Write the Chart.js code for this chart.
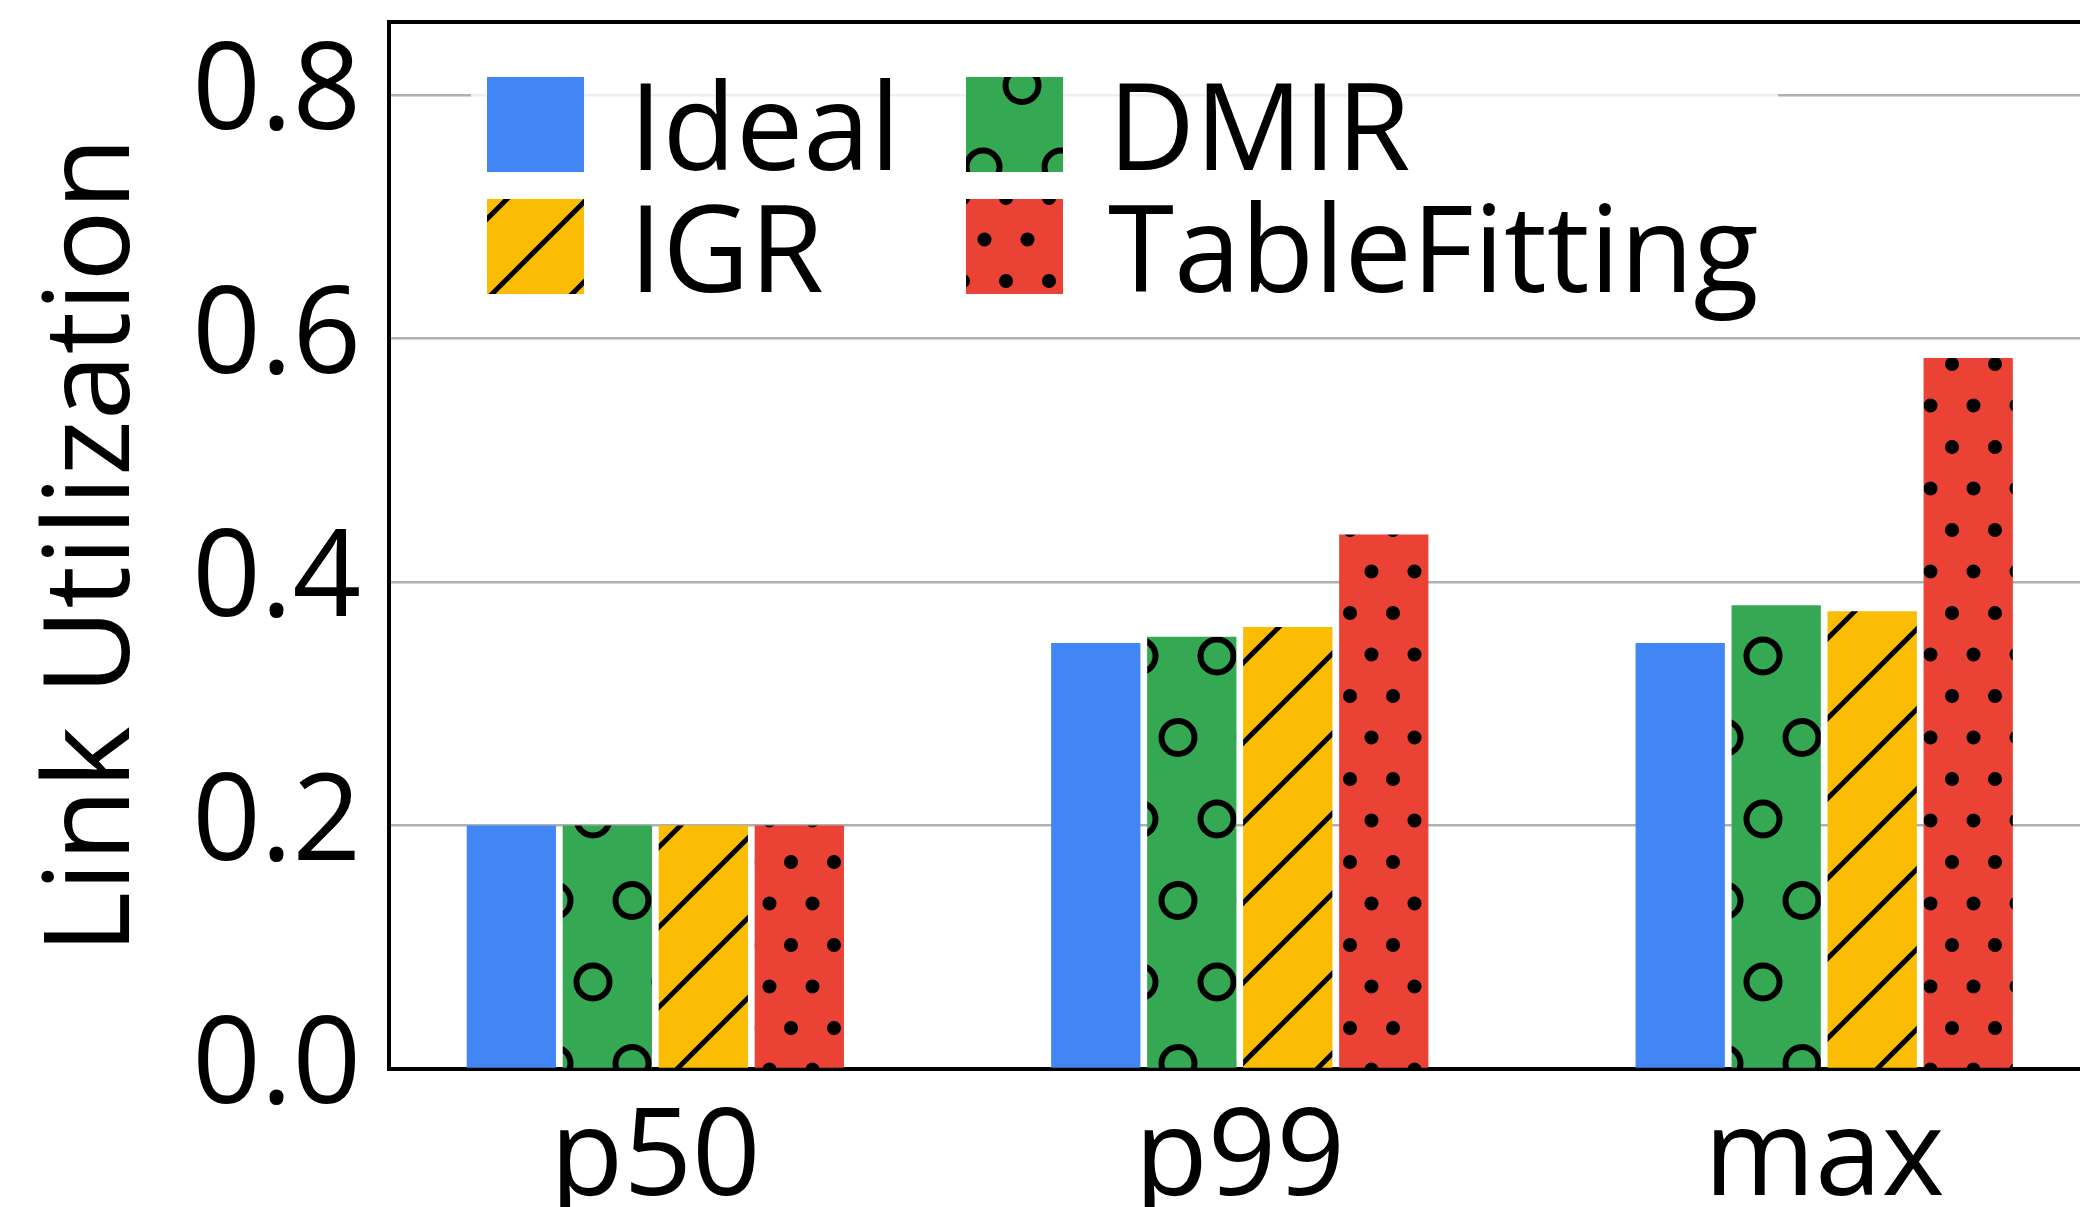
<!DOCTYPE html>
<html>
<head>
<meta charset="utf-8">
<script src="https://cdn.jsdelivr.net/npm/chart.js@4.4.1/dist/chart.umd.min.js"></script>
<style>
  html, body { margin: 0; padding: 0; background: #fff; overflow: hidden; width: 2080px; height: 1207px; }
  #wrap { width: 2200px; height: 1207px; }
</style>
</head>
<body>
<div id="wrap"><canvas id="c" width="2200" height="1207"></canvas></div>
<script>
// ---- data ----
const categories = ['p50', 'p99', 'max'];
const seriesNames = ['Ideal', 'DMIR', 'IGR', 'TableFitting'];
const idealVals = [0.200, 0.350, 0.350];
const dmirVals = [0.200, 0.355, 0.381];
const igrVals = [0.200, 0.363, 0.376];
const tableFittingVals = [0.200, 0.439, 0.584];
const yTickValues = [0.0, 0.2, 0.4, 0.6, 0.8];

// ---- styling ----
const FONT = 'Open Sans';
const TEXT_SIZE = 120;
const fillColors = ['#4285F4', '#34A853', '#FBBC04', '#EA4335'];

const canvas = document.getElementById('c');
const mainCtx = canvas.getContext('2d');

// Build a repeating hatch fill on top of a base colour.
function hatchFill(w, h, base, paint) {
  const t = document.createElement('canvas');
  t.width = w; t.height = h;
  const g = t.getContext('2d');
  g.fillStyle = base;
  g.fillRect(0, 0, w, h);
  g.strokeStyle = '#000';
  g.fillStyle = '#000';
  paint(g, w, h);
  return mainCtx.createPattern(t, 'repeat');
}

// open rings in staggered rows
const ringFill = hatchFill(78, 163, fillColors[1], (g, w, h) => {
  g.lineWidth = 6;
  const pts = [[47, 4], [8, 85.5]];
  for (const [px, py] of pts) {
    for (const dx of [-w, 0, w]) for (const dy of [-h, 0, h]) {
      g.beginPath();
      g.arc(px + dx, py + dy, 16.5, 0, Math.PI * 2);
      g.stroke();
    }
  }
});

// forward diagonal lines
const slashFill = hatchFill(80, 80, fillColors[2], (g, w, h) => {
  g.lineWidth = 5;
  g.lineCap = 'butt';
  for (let k = -2; k <= 2; k++) {
    const c = 66 + k * w;
    g.beginPath();
    g.moveTo(c + 20, -20);
    g.lineTo(-20, c + 20);
    g.stroke();
  }
});

// small solid dots in staggered rows
const dotFill = hatchFill(43, 83, fillColors[3], (g, w, h) => {
  const pts = [[17, 32], [38.5, 73.5]];
  for (const [px, py] of pts) {
    for (const dx of [-w, 0, w]) for (const dy of [-h, 0, h]) {
      g.beginPath();
      g.arc(px + dx, py + dy, 7, 0, Math.PI * 2);
      g.fill();
    }
  }
});

const seriesValues = [idealVals, dmirVals, igrVals, tableFittingVals];
const seriesFills = [fillColors[0], ringFill, slashFill, dotFill];

// legend drawn inside the plot, two columns
const legendBox = { x: [487, 966], y: [77, 199], w: 97, h: 95, gap: 45,
                    frame: [471, 50, 1307, 266] };
const insideLegend = {
  id: 'insideLegend',
  afterDraw(chart) {
    const ctx = chart.ctx;
    ctx.save();
    const [fx, fy, fw, fh] = legendBox.frame;
    ctx.fillStyle = 'rgba(255,255,255,0.8)';
    ctx.fillRect(fx, fy, fw, fh);
    ctx.font = `${TEXT_SIZE}px "${FONT}"`;
    ctx.textBaseline = 'alphabetic';
    ctx.textAlign = 'left';
    chart.data.datasets.forEach((ds, i) => {
      const x = legendBox.x[i % 2];
      const y = legendBox.y[Math.floor(i / 2)];
      ctx.fillStyle = ds.backgroundColor;
      ctx.fillRect(x, y, legendBox.w, legendBox.h);
      ctx.fillStyle = '#000';
      ctx.fillText(ds.label, x + legendBox.w + legendBox.gap, y + legendBox.h - 2);
    });
    ctx.restore();
  }
};

const xMin = -0.4557, xMax = 2.643;

function build() {
  new Chart(canvas, {
    type: 'bar',
    data: {
      datasets: seriesNames.map((name, s) => ({
        label: name,
        data: seriesValues[s].map((v, i) => ({ x: i, y: v })),
        backgroundColor: seriesFills[s],
        borderWidth: 0,
        categoryPercentage: 0.657,
        barPercentage: 0.93
      }))
    },
    options: {
      responsive: false,
      animation: false,
      devicePixelRatio: 1,
      layout: { padding: { left: 0, right: 0, top: 22, bottom: 0 } },
      plugins: { legend: { display: false }, tooltip: { enabled: false } },
      scales: {
        x: {
          type: 'linear', position: 'bottom', min: xMin, max: xMax, z: 2,
          offset: false, bounds: 'data',
          afterBuildTicks: s => { s.ticks = categories.map((_, i) => ({ value: i })); },
          afterFit: s => { s.height = 138; s.paddingLeft = 0; s.paddingRight = 0; },
          grid: { display: false, drawTicks: false, offset: false },
          border: { display: true, color: '#000', width: 4 },
          ticks: {
            callback: v => categories[v],
            font: { family: FONT, size: TEXT_SIZE }, color: '#000',
            padding: 20, maxRotation: 0, autoSkip: false
          }
        },
        xTop: {
          type: 'linear', position: 'top', min: xMin, max: xMax, z: 2,
          offset: false, bounds: 'data',
          afterFit: s => { s.height = 0; s.paddingLeft = 0; s.paddingRight = 0; },
          grid: { display: false, drawTicks: false, offset: false },
          ticks: { display: false },
          border: { display: true, color: '#000', width: 4 }
        },
        y: {
          min: 0, max: 0.86, z: 1,
          afterBuildTicks: s => { s.ticks = yTickValues.map(v => ({ value: v })); },
          afterFit: s => { s.width = 389; s.paddingTop = 0; s.paddingBottom = 0; },
          grid: { color: '#b0b0b0', lineWidth: 2.5, drawTicks: false },
          border: { display: true, color: '#000', width: 4 },
          ticks: {
            callback: v => v.toFixed(1),
            font: { family: FONT, size: TEXT_SIZE }, color: '#000', padding: 28
          },
          title: {
            display: true, text: 'Link Utilization',
            font: { family: FONT, size: 119 }, color: '#000',
            padding: { top: 24, bottom: 0 }
          }
        }
      }
    },
    plugins: [insideLegend]
  });
}

document.fonts.load(`${TEXT_SIZE}px "${FONT}"`).then(build, build);
</script>
</body>
</html>
